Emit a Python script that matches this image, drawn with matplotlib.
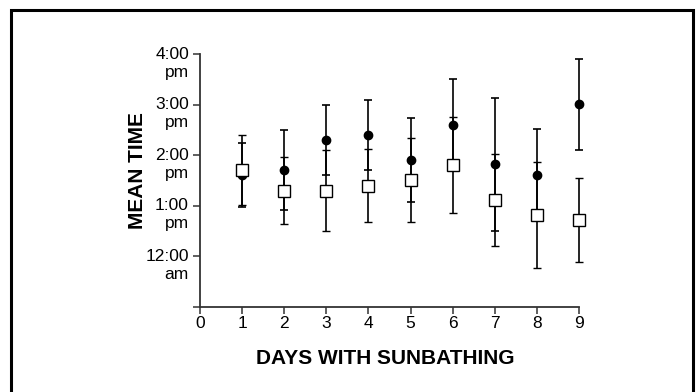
import numpy as np
import matplotlib
matplotlib.use("Agg")
import matplotlib.pyplot as plt
from matplotlib.patches import Rectangle
from matplotlib.transforms import ScaledTranslation

plt.rcParams['font.family'] = ['Liberation Sans', 'DejaVu Sans']

# jours avec bain de soleil
days = [1, 2, 3, 4, 5, 6, 7, 8, 9]

# heure moyenne (en heures décimales) - points pleins
circle_mean = [13.61, 13.71, 14.30, 14.40, 13.91, 14.61, 13.82, 13.61, 15.01]
circle_err = [0.63, 0.79, 0.69, 0.69, 0.83, 0.91, 1.31, 0.91, 0.91]

# heure moyenne - carrés vides
square_mean = [13.71, 13.30, 13.30, 13.40, 13.51, 13.81, 13.11, 12.82, 12.72]
square_err = [0.69, 0.66, 0.80, 0.72, 0.84, 0.96, 0.91, 1.05, 0.84]

y_ticks = [11, 12, 13, 14, 15, 16]
y_labels = ["", "12:00\nam", "1:00\npm", "2:00\npm", "3:00\npm", "4:00\npm"]
x_ticks = [0, 1, 2, 3, 4, 5, 6, 7, 8, 9]

fig = plt.figure(figsize=(6.99, 3.92), dpi=100)
ax = fig.add_axes([0.2861, 0.2176, 0.5422, 0.6434])

eb1 = ax.errorbar(days, circle_mean, yerr=circle_err, fmt='o', color='black',
                  ms=6, capsize=3.2, elinewidth=1.2, capthick=1.2, zorder=3)
eb2 = ax.errorbar(days, square_mean, yerr=square_err, fmt='s', color='black',
                  mfc='white', mec='black', mew=1.0, ms=8, capsize=3.2,
                  elinewidth=1.2, capthick=1.2, zorder=4)
# les points à x=9 débordent de l'axe
for eb in (eb1, eb2):
    for art in eb.get_children():
        art.set_clip_on(False)

ax.set_xlim(0, 9)
ax.set_ylim(11, 16)
ax.set_xticks(x_ticks)
ax.set_xticklabels([str(t) for t in x_ticks], fontsize=12.5)
ax.set_yticks(y_ticks)
ax.set_yticklabels([])

# étiquettes de l'axe y sur deux lignes, la 1re ligne au niveau de la graduation
shift = ScaledTranslation(-0.11, 0.075, fig.dpi_scale_trans)
for t, lab in zip(y_ticks, y_labels):
    ax.text(0, t, lab, transform=ax.get_yaxis_transform() + shift,
            ha='right', va='top', multialignment='right',
            fontsize=12.5, linespacing=1.25)

for s in ['top', 'right']:
    ax.spines[s].set_visible(False)
for s in ['left', 'bottom']:
    ax.spines[s].set_linewidth(1.3)
    ax.spines[s].set_color('#333333')
ax.tick_params(axis='both', direction='out', length=5, width=1.1, color='#333333')
ax.tick_params(axis='x', pad=2)

ax.set_xlabel('DAYS WITH SUNBATHING', fontsize=15, fontweight='bold')
ax.xaxis.set_label_coords(0.49, -0.207)
ax.xaxis.label.set_verticalalignment('center')
ax.set_ylabel('MEAN TIME', fontsize=15, fontweight='bold')
ax.yaxis.set_label_coords(-0.165, 0.538)
ax.yaxis.label.set_verticalalignment('center')

# cadre autour de la figure
border = Rectangle((11 / 699, -0.05), (693 - 11) / 699, 1.05 - 10.5 / 392,
                   transform=fig.transFigure, fill=False, lw=2.2,
                   edgecolor='black', clip_on=False)
fig.patches.append(border)

fig.savefig('out.png', dpi=100)
